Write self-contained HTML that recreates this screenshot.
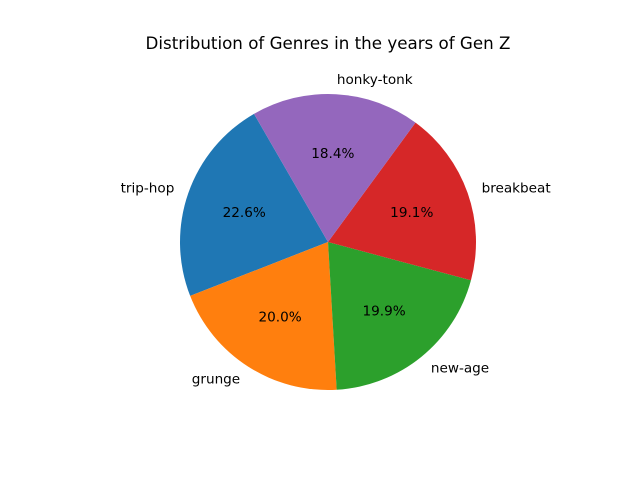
<!DOCTYPE html>
<html><head><meta charset="utf-8"><style>body{margin:0;background:#fff}svg{display:block}text{font-family:"DejaVu Sans","Liberation Sans",sans-serif}</style></head>
<body>
<svg id="chart" width="640" height="480">
<rect width="640" height="480" fill="#fff"/>
<text x="328" y="49" text-anchor="middle" font-size="16.7" fill="#000">Distribution of Genres in the years of Gen Z</text>
<g id="slices"></g>
</svg>
<script>
const labels = ["trip-hop","grunge","new-age","breakbeat","honky-tonk"];
const values = [22.6,20.0,19.9,19.1,18.4];
const colors = ["#1f77b4","#ff7f0e","#2ca02c","#d62728","#9467bd"];
const cx=328, cy=242, r=148, start=120;
const g=document.getElementById('slices');
const ns="http://www.w3.org/2000/svg";
const total=values.reduce((a,b)=>a+b,0);
let a=start;
function pt(deg,rr){const t=deg*Math.PI/180;return [cx+rr*Math.cos(t), cy-rr*Math.sin(t)];}
values.forEach((v,i)=>{
  const sweep=v/total*360, a2=a+sweep;
  const p1=pt(a,r), p2=pt(a2,r);
  const path=document.createElementNS(ns,'path');
  path.setAttribute('d',`M${cx},${cy} L${p1[0]},${p1[1]} A${r},${r} 0 ${sweep>180?1:0} 0 ${p2[0]},${p2[1]} Z`);
  path.setAttribute('fill',colors[i]);
  
  
  g.appendChild(path);
  const mid=a+sweep/2;
  const lp=pt(mid,r*1.1);
  const lt=document.createElementNS(ns,'text');
  lt.setAttribute('x',lp[0]);lt.setAttribute('y',lp[1]+4.5);
  lt.setAttribute('font-size','13.6');
  lt.setAttribute('text-anchor',Math.cos(mid*Math.PI/180)<0?'end':'start');
  lt.textContent=labels[i];
  
  
  g.appendChild(lt);
  const pp=pt(mid,r*0.6);
  const pt2=document.createElementNS(ns,'text');
  pt2.setAttribute('x',pp[0]);pt2.setAttribute('y',pp[1]+4.5);
  pt2.setAttribute('font-size','13.6');pt2.setAttribute('text-anchor','middle');
  pt2.textContent=(v/total*100).toFixed(1)+'%';
  
  
  g.appendChild(pt2);
  a=a2;
});
</script>
</body></html>
